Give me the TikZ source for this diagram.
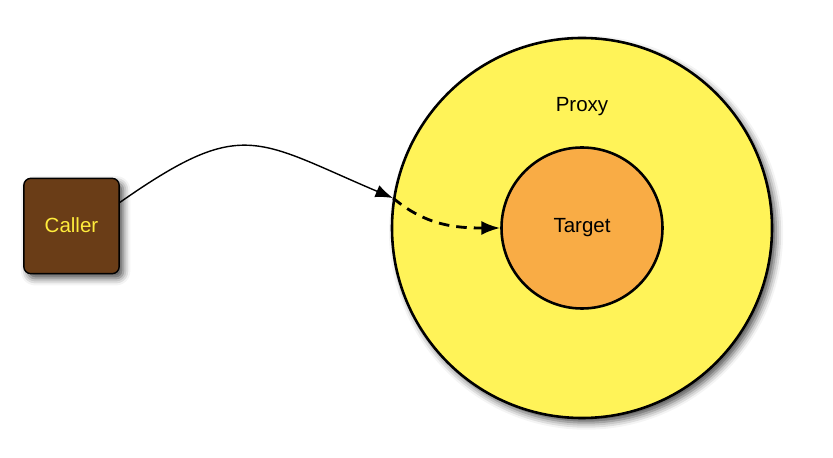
\documentclass[tikz,border=0pt]{standalone}
\usepackage{fontspec}
\setmainfont{Liberation Sans}
\usetikzlibrary{arrows.meta,shadows.blur}
\definecolor{callerbrown}{RGB}{106,61,23}
\definecolor{calleryellow}{RGB}{255,236,60}
\definecolor{proxyyellow}{RGB}{255,243,88}
\definecolor{targetorange}{RGB}{249,172,69}
\begin{document}
\begin{tikzpicture}[x=0.03cm, y=-0.03cm, every node/.style={font=\fontsize{17.5}{20}\selectfont},
  shade/.style={blur shadow={shadow xshift=3.5pt, shadow yshift=-4pt, shadow blur radius=6pt, shadow opacity=70}},
  callerbox/.style={draw, line width=1.2pt, fill=callerbrown, rounded corners=6pt,
    minimum width=2.86cm, minimum height=2.86cm, shade},
  ring/.style={circle, draw, line width=2.2pt, inner sep=0pt},
  call/.style={line width=1.2pt, -{Latex[length=15pt, width=11pt]}},
  forward/.style={line width=2.4pt, dash pattern=on 9pt off 6pt, -{Latex[length=16pt, width=12pt]}}]
  \useasboundingbox (0,0) rectangle (833,458);
  % Proxy and its target
  \node[ring, shade, fill=proxyyellow, minimum size=11.4cm] (proxy) at (582,228) {};
  \node[ring, fill=targetorange, minimum size=4.83cm] (target) at (582,228) {};
  \node[anchor=base] (proxylabel) at (582,112) {Proxy};
  \node[anchor=base] (targetlabel) at (582,233) {Target};
  % Caller
  \node[callerbox] (caller) at (71.5,226) {};
  \node[anchor=base, text=calleryellow] (callerlabel) at (71.5,233) {Caller};
  % Calls
  \draw[call] (caller.26) to[out=35, in=157, looseness=1.4] (proxy.171);
  \draw[forward] (proxy.171) to[out=-40, in=180] (target.west);
\end{tikzpicture}
\end{document}
